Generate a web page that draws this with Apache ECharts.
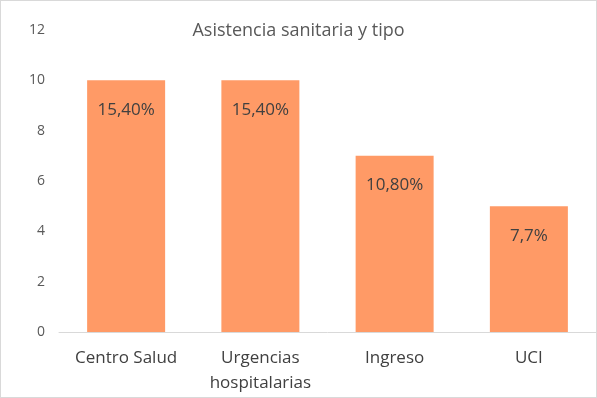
<!DOCTYPE html>
<html><head><meta charset="utf-8">
<script src="https://cdn.jsdelivr.net/npm/echarts@6/dist/echarts.min.js"></script>
<style>html,body{margin:0;padding:0;background:#fff;}
#c{width:595px;height:396px;border:1px solid #d9d9d9;}</style>
</head><body><div id="c"></div>
<script>
const categories = ['Centro Salud', 'Urgencias\nhospitalarias', 'Ingreso', 'UCI'];
const values = [10, 10, 7, 5];
const labels = ['15,40%', '15,40%', '10,80%', '7,7%'];
const yTicks = [0, 2, 4, 6, 8, 10, 12];

const chart = echarts.init(document.getElementById('c'));
chart.setOption({
  animation: false,
  title: { text: 'Asistencia sanitaria y tipo', left: 'center', top: 16,
    textStyle: { fontFamily: 'Open Sans', fontSize: 18, fontWeight: 'normal', color: '#595959' } },
  grid: { left: 58, right: 0, top: 29, bottom: 65 },
  xAxis: { type: 'category', data: categories,
    axisLine: { lineStyle: { color: '#d9d9d9', width: 1 } },
    axisTick: { show: false },
    axisLabel: { fontFamily: 'Open Sans', fontSize: 17, color: '#404040', margin: 14, lineHeight: 25, interval: 0 } },
  yAxis: { type: 'value', min: yTicks[0], max: yTicks[yTicks.length-1], interval: 2,
    splitLine: { show: false }, axisLine: { show: false }, axisTick: { show: false },
    axisLabel: { fontFamily: 'Open Sans', fontSize: 14, color: '#595959', margin: 14 } },
  series: [{ type: 'bar', data: values, barWidth: 78,
    itemStyle: { color: '#FF9A66' },
    label: { show: true, position: 'insideTop', distance: 21,
      formatter: p => labels[p.dataIndex],
      fontFamily: 'Open Sans', fontSize: 17, color: '#404040' } }]
});
</script></body></html>
